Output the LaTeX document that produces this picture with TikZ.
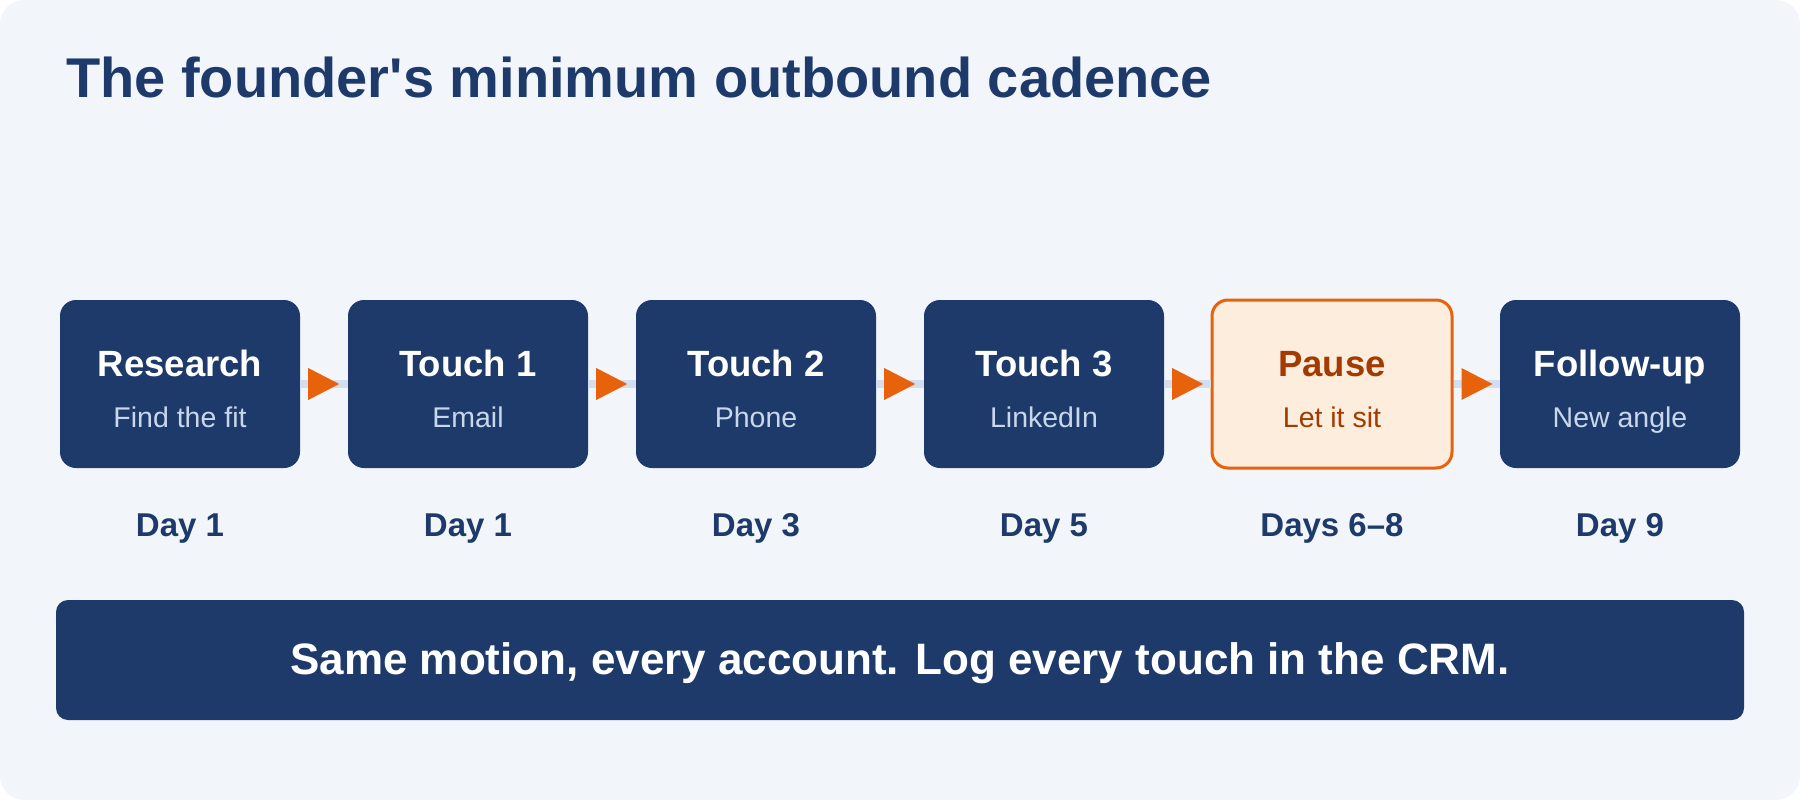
\documentclass[tikz,border=0pt]{standalone}
\usepackage{fontspec}
\setmainfont{Liberation Sans}
\definecolor{navy}{HTML}{1D3A6B}
\definecolor{bg}{HTML}{F2F6FB}
\definecolor{sub}{HTML}{C9D7EC}
\definecolor{orng}{HTML}{E8620C}
\definecolor{lineblue}{HTML}{D3DEEE}
\definecolor{pausefill}{HTML}{FDEDDC}
\definecolor{pausetext}{HTML}{A33A00}
\begin{document}
\begin{tikzpicture}[x=1pt,y=-1pt,
  stepbox/.style={rectangle, rounded corners=16pt, minimum width=240pt, minimum height=168pt, inner sep=0pt, fill=navy},
  pausebox/.style={rectangle, rounded corners=16pt, minimum width=240pt, minimum height=168pt, inner sep=0pt, fill=pausefill, draw=orng, line width=3pt},
  headtxt/.style={anchor=base, inner sep=0pt, text=white, font=\fontsize{36.5}{40}\selectfont\bfseries},
  subtxt/.style={anchor=base, inner sep=0pt, text=sub, font=\fontsize{28.5}{32}\selectfont},
  daytxt/.style={anchor=base, inner sep=0pt, text=navy, font=\fontsize{33}{36}\selectfont\bfseries},
  conn/.style={draw=lineblue, line width=8pt},
  arrowhead/.style={fill=orng}
]
\useasboundingbox (0,0) rectangle (1800,800);
\fill[white] (0,0) rectangle (1800,800);
\fill[bg, rounded corners=24pt] (0,0) rectangle (1800,800);

\node[anchor=base west, inner sep=0pt, text=navy, font=\fontsize{56}{60}\selectfont\bfseries] (title) at (66,98) {The founder\textquotesingle s minimum outbound cadence};

% boxes
\node[stepbox] (b1) at (180,384) {};
\node[stepbox] (b2) at (468,384) {};
\node[stepbox] (b3) at (756,384) {};
\node[stepbox] (b4) at (1044,384) {};
\node[pausebox] (b5) at (1332,384) {};
\node[stepbox] (b6) at (1620,384) {};

% connectors
\foreach \a/\b in {b1/b2,b2/b3,b3/b4,b4/b5,b5/b6}{
  \draw[conn] (\a.east) -- (\b.west);
  \fill[arrowhead] ([xshift=8pt]\a.east) -- ++(0,-16) -- ++(31,16) -- ++(-31,16) -- cycle;
}

% texts
\node[headtxt] (h1) at (180,376) {Research};
\node[subtxt] (s1) at (180,427) {Find the fit};
\node[headtxt] (h2) at (468,376) {Touch 1};
\node[subtxt] (s2) at (468,427) {Email};
\node[headtxt] (h3) at (756,376) {Touch 2};
\node[subtxt] (s3) at (756,427) {Phone};
\node[headtxt] (h4) at (1044,376) {Touch 3};
\node[subtxt] (s4) at (1044,427) {LinkedIn};
\node[headtxt, text=pausetext] (h5) at (1332,376) {Pause};
\node[subtxt, text=pausetext] (s5) at (1332,427) {Let it sit};
\node[headtxt] (h6) at (1620,376) {Follow-up};
\node[subtxt] (s6) at (1620,427) {New angle};

\node[daytxt] (d1) at (180,536) {Day 1};
\node[daytxt] (d2) at (468,536) {Day 1};
\node[daytxt] (d3) at (756,536) {Day 3};
\node[daytxt] (d4) at (1044,536) {Day 5};
\node[daytxt] (d5) at (1332,536) {Days 6–8};
\node[daytxt] (d6) at (1620,536) {Day 9};

% banner
\node[rectangle, rounded corners=12pt, minimum width=1688pt, minimum height=120pt, inner sep=0pt, fill=navy] (banner) at (900,660) {};
\node[anchor=base, inner sep=0pt, text=white, font=\fontsize{44}{48}\selectfont\bfseries] (bannertxt) at (900,674) {Same motion, every account. Log every touch in the CRM.};
\end{tikzpicture}
\end{document}
